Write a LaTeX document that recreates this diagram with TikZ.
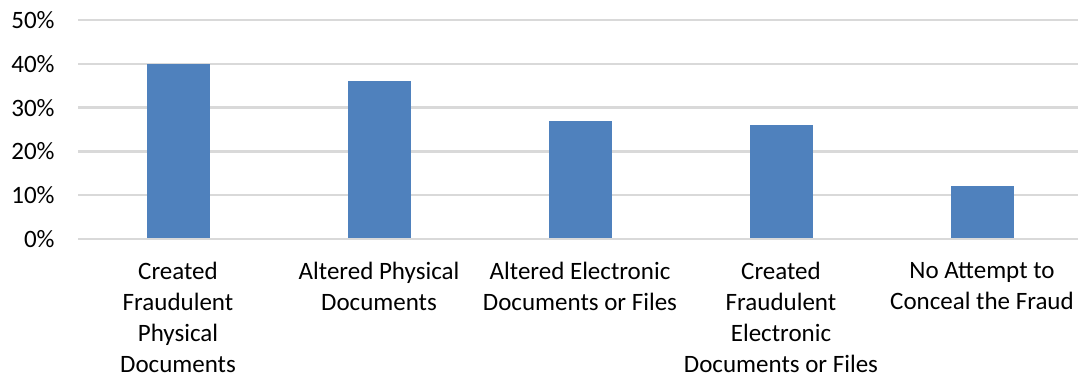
\documentclass[tikz,border=0pt]{standalone}
\usepackage{fontspec}
\setmainfont{Carlito}
\usepackage{xcolor}
\definecolor{barblue}{HTML}{4F81BD}
\definecolor{gridgray}{HTML}{D9D9D9}

\begin{document}
\begin{tikzpicture}[
x=0.5pt, y=0.5pt,
grid/.style={draw=gridgray, line width=1.2pt},
bar/.style={fill=barblue, draw=none},
tick/.style={anchor=east, inner sep=0pt, font=\fontsize{12.5}{15.5}\selectfont},
catlabel/.style={anchor=north, inner sep=0pt, align=center,
font=\fontsize{12.5}{15.5}\selectfont}
]
\useasboundingbox (0,0) rectangle (1078,384);

% gridlines
\coordinate (g0a) at (78,145);   \coordinate (g0b) at (1078,145);
\coordinate (g1a) at (78,188.8); \coordinate (g1b) at (1078,188.8);
\coordinate (g2a) at (78,232.6); \coordinate (g2b) at (1078,232.6);
\coordinate (g3a) at (78,276.4); \coordinate (g3b) at (1078,276.4);
\coordinate (g4a) at (78,320.2); \coordinate (g4b) at (1078,320.2);
\coordinate (g5a) at (78,364);   \coordinate (g5b) at (1078,364);

\draw[grid] (g1a) -- (g1b);
\draw[grid] (g2a) -- (g2b);
\draw[grid] (g3a) -- (g3b);
\draw[grid] (g4a) -- (g4b);
\draw[grid] (g5a) -- (g5b);

% bars
\fill[bar] (146.5,145) rectangle (209.5,320.2);
\fill[bar] (347.5,145) rectangle (410.5,302.7);
\fill[bar] (548.5,145) rectangle (611.5,263.3);
\fill[bar] (749.5,145) rectangle (812.5,258.9);
\fill[bar] (950.5,145) rectangle (1013.5,197.6);

\draw[grid] (g0a) -- (g0b);

% axis labels
\node[tick] (t0) at (55,145)   {0\%};
\node[tick] (t1) at (55,188.8) {10\%};
\node[tick] (t2) at (55,232.6) {20\%};
\node[tick] (t3) at (55,276.4) {30\%};
\node[tick] (t4) at (55,320.2) {40\%};
\node[tick] (t5) at (55,364)   {50\%};

% category labels
\node[catlabel] (cat1) at (178,122) {Created\\Fraudulent\\Physical\\Documents};
\node[catlabel] (cat2) at (379,122) {Altered Physical\\Documents};
\node[catlabel] (cat3) at (580,122) {Altered Electronic\\Documents or Files};
\node[catlabel] (cat4) at (781,122) {Created\\Fraudulent\\Electronic\\Documents or Files};
\node[catlabel] (cat5) at (982,122) {No Attempt to\\Conceal the Fraud};

\end{tikzpicture}
\end{document}
